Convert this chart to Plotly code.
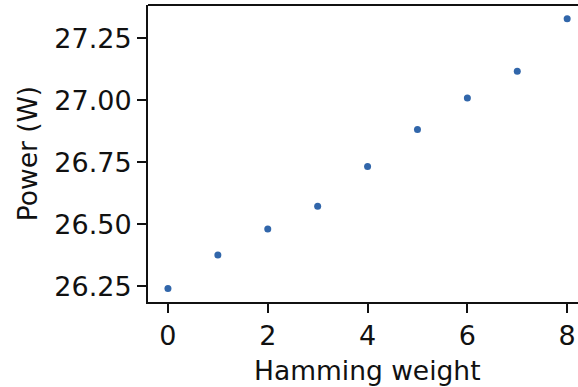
import plotly.graph_objects as go

# Measured power draw per Hamming weight of the operand
hamming_weight = [0, 1, 2, 3, 4, 5, 6, 7, 8]
power_w = [26.241, 26.376, 26.481, 26.573, 26.733, 26.882, 27.009, 27.117, 27.329]

x_ticks = [0, 2, 4, 6, 8]
y_ticks = [26.25, 26.50, 26.75, 27.00, 27.25]

FONT = "DejaVu Sans"
INK = "#111111"

fig = go.Figure(
    go.Scatter(
        x=hamming_weight,
        y=power_w,
        mode="markers",
        marker=dict(color="#3166aa", size=7, line=dict(width=0)),
        showlegend=False,
    )
)

axis_common = dict(
    showline=True,
    linecolor=INK,
    linewidth=2,
    ticks="outside",
    ticklen=9,
    tickwidth=2,
    tickcolor=INK,
    showgrid=False,
    zeroline=False,
    tickfont=dict(family=FONT, size=27, color=INK),
    title_font=dict(family=FONT, size=26.5, color=INK),
)

fig.update_xaxes(
    range=[-0.4, 8.217],
    tickvals=x_ticks,
    ticktext=[str(v) for v in x_ticks],
    **axis_common,
)
fig.update_yaxes(
    range=[26.187, 27.384],
    tickvals=y_ticks,
    ticktext=[f"{v:.2f}" for v in y_ticks],
    title_text="Power (W)",
    title_standoff=9,
    **axis_common,
)

# x-axis label, centred on the middle of the data span (the axes run past the right edge)
fig.add_annotation(
    text="Hamming weight",
    x=(min(x_ticks) + max(x_ticks)) / 2, xref="x",
    y=0, yref="paper",
    xanchor="center", yanchor="middle",
    yshift=-68,
    showarrow=False,
    font=dict(family=FONT, size=26.5, color=INK),
)

# top spine of the axes box
fig.add_shape(
    type="line", xref="paper", yref="paper",
    x0=0, x1=1, y0=1, y1=1,
    line=dict(color=INK, width=2),
)

fig.update_layout(
    width=578,
    height=387,
    margin=dict(l=148, r=0, t=5, b=85),
    paper_bgcolor="white",
    plot_bgcolor="white",
)

fig.write_html("out.html")
